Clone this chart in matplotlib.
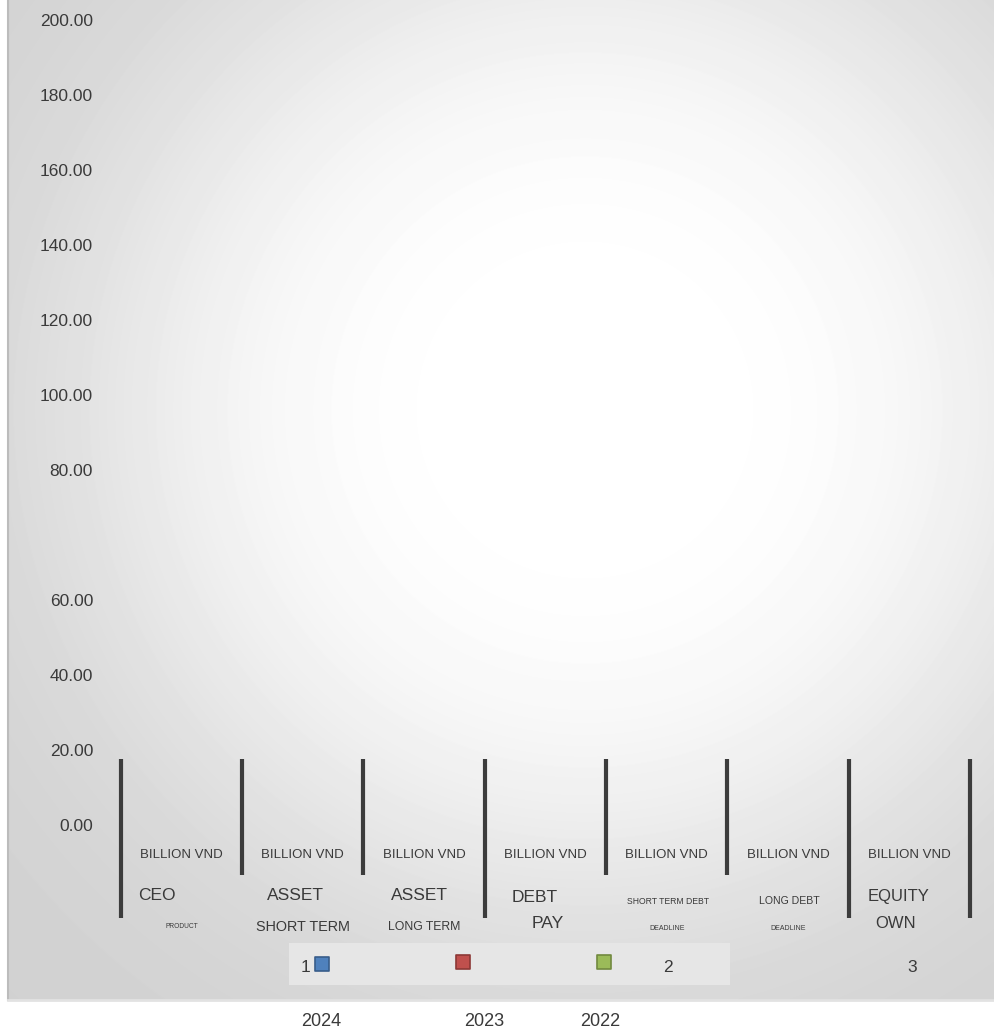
import numpy as np
import matplotlib
matplotlib.use("Agg")
import matplotlib.pyplot as plt
from matplotlib.patches import Rectangle

plt.rcParams['font.family'] = ['Liberation Sans', 'DejaVu Sans']

# ---- data ----
categories = ["CEO", "ASSET", "ASSET", "DEBT", "SHORT TERM DEBT", "LONG DEBT", "EQUITY"]
sub_labels = ["PRODUCT", "SHORT TERM", "LONG TERM", "PAY", "DEADLINE", "DEADLINE", "OWN"]
unit_labels = ["BILLION VND"] * 7
divider_top = [17.6] * 8
divider_bottom = [-24.8, -13.3, -13.3, -24.8, -13.3, -13.3, -24.8, -24.8]
y_tick_values = [0, 20, 40, 60, 80, 100, 120, 140, 160, 180, 200]
series_names = ["2024", "2023", "2022"]
series_colors = ["#4F81BD", "#C0504D", "#9BBB59"]
series_edges = ["#385D8A", "#8C3836", "#71893F"]
legend_numbers = ["1", "2", "3"]

# ---- layout (pixel based, figure is 995 x 1033) ----
W, H = 995, 1033
PX0, PY1 = 8, 1000          # panel left / bottom


def vy(pix):
    # pixel row -> value units on the main axis
    return (825 - pix) / 3.75


def vx(pix):
    # pixel column -> category units
    return (pix - 181.5) / 121.3


fig = plt.figure(figsize=(W / 100, H / 100), dpi=100)
fig.patch.set_facecolor('white')

# background panel with radial glow
bg = fig.add_axes([0, 0, 1, 1])
bg.set_xlim(0, W)
bg.set_ylim(H, 0)
bg.axis('off')
xx, yy = np.meshgrid(np.arange(PX0, W), np.arange(0, PY1))
r = np.hypot(xx - 585, yy - 410)
glow = np.exp(-(r / 500.0) ** 3.5)
shade = (210 + 45 * glow) / 255.0
bg.imshow(shade, cmap='gray', vmin=0, vmax=1, extent=(PX0, W, PY1, 0),
          interpolation='bilinear', aspect='auto')
bg.plot([PX0, PX0], [0, PY1], color='#bcbcbc', lw=1.5)
bg.plot([PX0, W], [PY1, PY1], color='#e2e2e2', lw=2)

# main axis
ax = fig.add_axes([PX0 / W, (H - PY1) / H, (W - PX0) / W, PY1 / H])
ax.patch.set_alpha(0)
ax.set_xlim(vx(PX0), vx(W))
ax.set_ylim(vy(PY1), vy(0))

# tick positions: upper block sits 55 px higher than a linear scale
tick_pos = [v if v <= 60 else v + 55 / 3.75 for v in y_tick_values]
ax.set_yticks(tick_pos)
ax.set_yticklabels([f"{v:.2f}" for v in y_tick_values])
ax.set_xticks([])
for s in ['top', 'right', 'bottom']:
    ax.spines[s].set_visible(False)
ax.spines['left'].set_position(('data', vx(100)))
ax.spines['left'].set_visible(False)
ax.tick_params(axis='y', length=0, pad=5, labelsize=12.5, labelcolor='#3a3a3a')

# divider bars
div_x = np.arange(len(categories) + 1) - 0.5
ax.vlines(div_x, divider_bottom, divider_top, color='#3c3c3c', lw=3)

# category texts
main_dx = [-0.20, -0.06, -0.04, -0.09, 0.01, 0.01, -0.09]
main_y = [895, 896, 895, 898, 901, 901, 896]
main_fs = [12.5, 12.5, 12.5, 12.5, 6.2, 7.6, 12]
sub_dx = [0.0, 0.0, 0.0, 0.02, 0.0, 0.0, -0.11]
sub_y = [926, 927, 927, 923, 929, 929, 923]
sub_fs = [4.8, 10.4, 8.8, 12.6, 5.0, 5.0, 12]
tc = '#3a3a3a'
for i, (cat, sub, unit) in enumerate(zip(categories, sub_labels, unit_labels)):
    ax.text(i, vy(855), unit, ha='center', va='center', fontsize=9.5, color=tc)
    ax.text(i + main_dx[i], vy(main_y[i]), cat, ha='center', va='center',
            fontsize=main_fs[i], color=tc)
    ax.text(i + sub_dx[i], vy(sub_y[i]), sub, ha='center', va='center',
            fontsize=sub_fs[i], color=tc)

# legend-like strip
ax.add_patch(Rectangle((vx(289), vy(985)), vx(730) - vx(289), vy(943) - vy(985),
                       facecolor='#e6e6e6', edgecolor='none', zorder=1))
leg_x = [vx(322), vx(463), vx(604)]
leg_y = [vy(964), vy(962), vy(962)]
ax.scatter(leg_x, leg_y, marker='s', s=110, c=series_colors,
           edgecolors=series_edges, linewidths=1.2, zorder=3)
num_x = [vx(305), vx(668), vx(912)]
for x, n in zip(num_x, legend_numbers):
    ax.text(x, vy(968), n, ha='center', va='center', fontsize=12.5, color=tc)

# year labels below the panel
year_x = [vx(321), vx(484), vx(600)]
for x, name in zip(year_x, series_names):
    ax.text(x, vy(1022), name, ha='center', va='center', fontsize=13, color=tc)

fig.savefig('out.png', dpi=100)
